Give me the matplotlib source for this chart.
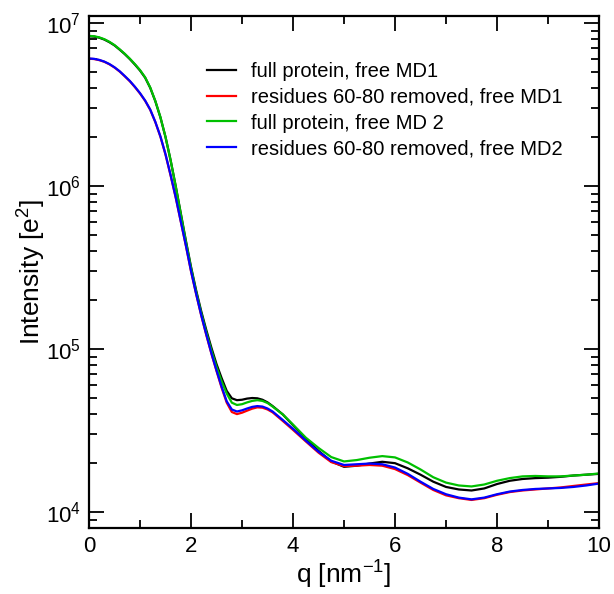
import matplotlib
matplotlib.use("Agg")
import matplotlib.pyplot as plt
from matplotlib.ticker import LogLocator, MultipleLocator, NullFormatter

plt.rcParams["font.family"] = ["Liberation Sans", "DejaVu Sans"]
plt.rcParams["mathtext.default"] = "regular"

# q grid: 0.1 steps up to 3.6, then 0.25 steps
q = [0.0, 0.1, 0.2, 0.3, 0.4, 0.5, 0.6, 0.7, 0.8, 0.9, 1.0, 1.1, 1.2, 1.3,
     1.4, 1.5, 1.6, 1.7, 1.8, 1.9, 2.0, 2.1, 2.2, 2.3, 2.4, 2.5, 2.6, 2.7,
     2.8, 2.9, 3.0, 3.1, 3.2, 3.3, 3.4, 3.5, 3.6,
     3.8, 4.0, 4.25, 4.5, 4.75, 5.0, 5.25, 5.5, 5.75, 6.0, 6.25, 6.5, 6.75,
     7.0, 7.25, 7.5, 7.75, 8.0, 8.25, 8.5, 8.75, 9.0, 9.25, 9.5, 9.75, 10.0]

full_md1 = [8.3e6, 8.27e6, 8.14e6, 7.93e6, 7.64e6, 7.3e6, 6.88e6, 6.46e6,
            6.02e6, 5.57e6, 5.12e6, 4.63e6, 4.01e6, 3.32e6, 2.64e6, 2.0e6,
            1.44e6, 1.0e6, 6.8e5, 4.62e5, 3.2e5, 2.3e5, 1.71e5, 1.31e5,
            1.02e5, 8.1e4, 6.65e4, 5.55e4, 5.0e4, 4.87e4, 4.9e4, 4.98e4,
            5.02e4, 5.0e4, 4.9e4, 4.72e4, 4.48e4,
            3.98e4, 3.42e4, 2.83e4, 2.38e4, 2.05e4, 1.9e4, 1.93e4, 1.99e4,
            2.04e4, 2.0e4, 1.86e4, 1.7e4, 1.54e4, 1.43e4, 1.38e4, 1.36e4,
            1.4e4, 1.49e4, 1.56e4, 1.6e4, 1.62e4, 1.63e4, 1.65e4, 1.68e4,
            1.7e4, 1.72e4]

removed_md1 = [6.05e6, 6.02e6, 5.93e6, 5.79e6, 5.59e6, 5.34e6, 5.05e6,
               4.72e6, 4.4e6, 4.05e6, 3.7e6, 3.34e6, 2.94e6, 2.47e6, 2.01e6,
               1.56e6, 1.16e6, 8.5e5, 6.04e5, 4.3e5, 3.0e5, 2.18e5, 1.61e5,
               1.22e5, 9.38e4, 7.35e4, 5.8e4, 4.7e4, 4.12e4, 4.0e4, 4.08e4,
               4.2e4, 4.32e4, 4.4e4, 4.38e4, 4.27e4, 4.1e4,
               3.63e4, 3.2e4, 2.72e4, 2.32e4, 2.03e4, 1.92e4, 1.93e4, 1.95e4,
               1.93e4, 1.84e4, 1.69e4, 1.52e4, 1.37e4, 1.27e4, 1.22e4, 1.19e4,
               1.22e4, 1.28e4, 1.33e4, 1.36e4, 1.38e4, 1.4e4, 1.42e4, 1.45e4,
               1.48e4, 1.51e4]

full_md2 = [8.35e6, 8.31e6, 8.18e6, 7.97e6, 7.68e6, 7.33e6, 6.91e6, 6.49e6,
            6.05e6, 5.6e6, 5.15e6, 4.65e6, 4.03e6, 3.33e6, 2.65e6, 2.0e6,
            1.44e6, 9.95e5, 6.73e5, 4.55e5, 3.15e5, 2.25e5, 1.67e5, 1.27e5,
            9.84e4, 7.8e4, 6.35e4, 5.35e4, 4.7e4, 4.55e4, 4.6e4, 4.72e4,
            4.82e4, 4.87e4, 4.82e4, 4.68e4, 4.45e4,
            3.98e4, 3.45e4, 2.87e4, 2.48e4, 2.18e4, 2.05e4, 2.09e4, 2.16e4,
            2.21e4, 2.17e4, 2.02e4, 1.83e4, 1.64e4, 1.52e4, 1.46e4, 1.44e4,
            1.48e4, 1.56e4, 1.62e4, 1.66e4, 1.67e4, 1.66e4, 1.66e4, 1.68e4,
            1.7e4, 1.73e4]

removed_md2 = [6.07e6, 6.04e6, 5.95e6, 5.81e6, 5.61e6, 5.36e6, 5.07e6,
               4.74e6, 4.42e6, 4.07e6, 3.72e6, 3.35e6, 2.95e6, 2.48e6, 2.02e6,
               1.57e6, 1.17e6, 8.55e5, 6.07e5, 4.32e5, 3.02e5, 2.19e5, 1.62e5,
               1.23e5, 9.44e4, 7.41e4, 5.89e4, 4.79e4, 4.27e4, 4.15e4, 4.22e4,
               4.33e4, 4.43e4, 4.48e4, 4.45e4, 4.33e4, 4.15e4,
               3.68e4, 3.25e4, 2.75e4, 2.35e4, 2.07e4, 1.95e4, 1.97e4, 1.99e4,
               1.97e4, 1.88e4, 1.72e4, 1.54e4, 1.39e4, 1.29e4, 1.23e4, 1.2e4,
               1.23e4, 1.29e4, 1.34e4, 1.37e4, 1.39e4, 1.4e4, 1.41e4, 1.43e4,
               1.46e4, 1.5e4]

labels = ["full protein, free MD1", "residues 60-80 removed, free MD1",
          "full protein, free MD 2", "residues 60-80 removed, free MD2"]
colors = ["black", "#ff0000", "#00c000", "#0000ff"]

fig = plt.figure(figsize=(6.14, 5.94), dpi=100)
ax = fig.add_axes([0.145, 0.111, 0.8306, 0.8625])

for ys, lab, col in zip([full_md1, removed_md1, full_md2, removed_md2],
                        labels, colors):
    ax.plot(q, ys, color=col, lw=1.6, label=lab)

ax.set_yscale("log")
ax.set_xlim(0, 10)
ax.set_ylim(8.0e3, 1.11e7)

ax.xaxis.set_major_locator(MultipleLocator(2))
ax.xaxis.set_minor_locator(MultipleLocator(1))
ax.yaxis.set_major_locator(LogLocator(base=10))
ax.yaxis.set_minor_locator(LogLocator(base=10, subs=range(2, 10)))
ax.yaxis.set_minor_formatter(NullFormatter())

ax.tick_params(which="both", direction="in", top=True, right=True,
               width=1.3, labelsize=16)
ax.tick_params(which="major", length=11, pad=6)
ax.tick_params(which="minor", length=6)
for sp in ax.spines.values():
    sp.set_linewidth(1.6)

ax.set_xlabel("q [nm$^{-1}$]", fontsize=19, labelpad=1)
ax.set_ylabel("Intensity [e$^2$]", fontsize=19, labelpad=-2)

ax.legend(loc="upper left", bbox_to_anchor=(0.216, 0.925), frameon=False,
          fontsize=14.5, handlelength=1.45, handletextpad=0.74,
          labelspacing=0.33, borderaxespad=0)

fig.savefig("out.png", dpi=100)
